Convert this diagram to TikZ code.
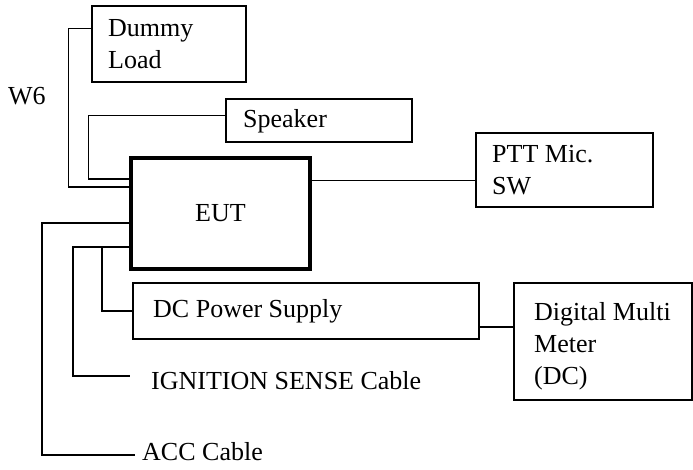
\documentclass[tikz,border=0pt]{standalone}
\usepackage{fontspec}
\setmainfont{Liberation Serif}
\usetikzlibrary{calc}
\begin{document}
\begin{tikzpicture}[x=1pt,y=-1pt,
  box/.style={draw,line width=1.5pt,rectangle,inner sep=0pt},
  eutbox/.style={draw,line width=4pt,rectangle,inner sep=0pt},
  txt/.style={anchor=base west,inner sep=0pt,font=\fontsize{26}{30}\selectfont},
  wire/.style={line width=1.5pt}]
\useasboundingbox (0,0) rectangle (693,469);
% boxes
\node[box,minimum width=154pt,minimum height=76pt] (dl) at (169,44) {};
\node[box,minimum width=186pt,minimum height=43pt] (sp) at (319,120.5) {};
\node[eutbox,minimum width=179pt,minimum height=111pt] (eut) at (220.5,213.5) {};
\node[box,minimum width=177pt,minimum height=74pt] (ptt) at (564.5,170) {};
\node[box,minimum width=346pt,minimum height=56pt] (dc) at (306,311) {};
\node[box,minimum width=178pt,minimum height=117pt] (dmm) at (603,341.5) {};
% texts
\node[txt] (dlt1) at (108,36) {Dummy};
\node[txt] (dlt2) at (108,68) {Load};
\node[txt] (w6) at (8,104) {W6};
\node[txt] (spt) at (243,127) {Speaker};
\node[txt] (eutt) at (195,221) {EUT};
\node[txt] (ptt1) at (492,162) {PTT Mic.};
\node[txt] (ptt2) at (492,194) {SW};
\node[txt] (dct) at (153,317) {DC Power Supply};
\node[txt] (dm1) at (534,320) {Digital Multi};
\node[txt] (dm2) at (534,352) {Meter};
\node[txt] (dm3) at (534,384) {(DC)};
\node[txt] (ignt) at (151,389) {IGNITION SENSE Cable};
\node[txt] (acct) at (142,460) {ACC Cable};
% connectors
\coordinate (accend) at (135,455);
\coordinate (ignend) at (130,376);
\coordinate (pj) at ($(ptt.north west)+(0,48)$);
\coordinate (dj) at ($(dc.south east)+(0,-13)$);
\draw[wire] ($(dl.north west)+(0,23)$) -- ++(-23,0) |- ($(eut.north west)+(0,31)$);
\draw[wire] ($(sp.north west)+(0,17)$) -- ++(-137,0) |- ($(eut.north west)+(0,23)$);
\draw[wire] (eut.east |- pj) -- (pj);
\draw[wire] ($(eut.north west)+(0,67)$) -- ++(-87,0) |- (accend);
\draw[wire] ($(eut.north west)+(0,91)$) -- ++(-56,0) |- (ignend);
\draw[wire] ($(eut.north west)+(0,91)$) -- ++(-27,0) |- (dc.west);
\draw[wire] (dj) -- (dmm.west |- dj);
\end{tikzpicture}
\end{document}
